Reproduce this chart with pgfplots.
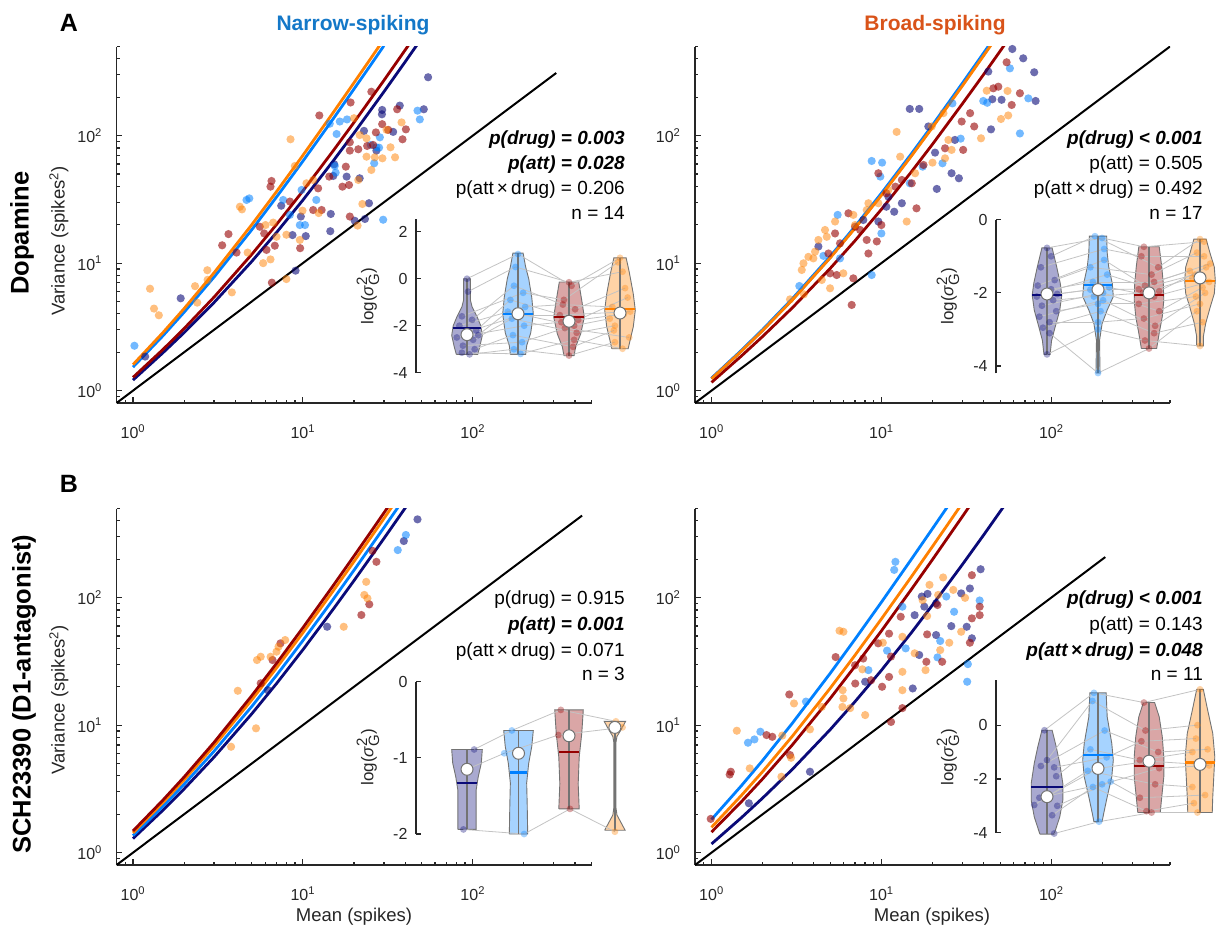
\documentclass[border=0pt]{standalone}
\usepackage{pgfplots}
\pgfplotsset{compat=1.18}
\usepackage{pgfplotstable}
\usepackage{fontspec}
\setmainfont{Liberation Sans}
\definecolor{navyc}{RGB}{10,10,120}
\definecolor{bluec}{RGB}{0,128,255}
\definecolor{redc}{RGB}{150,0,0}
\definecolor{orangec}{RGB}{255,128,0}
\definecolor{axgray}{RGB}{38,38,38}
\definecolor{vgray}{RGB}{115,115,115}
\definecolor{lgray}{RGB}{195,195,195}
\definecolor{narrowc}{RGB}{20,120,200}
\definecolor{broadc}{RGB}{217,83,25}
\newcommand{\fs}[1]{\fontsize{#1}{#1}\selectfont}
\newcommand{\sig}[1]{{\bfseries\itshape #1}}
\newcommand{\lsig}{log(\textit{σ}$^{\mbox{\fs{15}2}}_{\mbox{\fs{15}G}}$)}

\pgfplotsset{
  mainax/.style={
    scale only axis, width=475pt, height=356.5pt,
    xmin=0.8, xmax=500, ymin=0.8, ymax=500,
    axis x line=bottom, axis y line=left,
    axis line style={draw=axgray, line width=1.6pt, -},
    every outer x axis line/.append style={-},
    every outer y axis line/.append style={-},
    xtick={1,10,100}, ytick={1,10,100},
    xticklabels={10\textsuperscript{0},10\textsuperscript{1},10\textsuperscript{2}},
    yticklabels={10\textsuperscript{0},10\textsuperscript{1},10\textsuperscript{2}},
    minor xtick={0.8,0.9,2,3,4,5,6,7,8,9,20,30,40,50,60,70,80,90,200,300,400,500},
    minor ytick={0.8,0.9,2,3,4,5,6,7,8,9,20,30,40,50,60,70,80,90,200,300,400,500},
    tick align=inside,
    major tick length=6pt, minor tick length=3.5pt,
    tick style={draw=axgray, line width=1.2pt},
    tick label style={font=\fs{16}, text=axgray},
    xticklabel style={yshift=-18pt},
    yticklabel style={xshift=-11pt},
  },
  insetax/.style={
    scale only axis, xmin=0, xmax=4.6, width=234.6pt,
    axis x line=none, axis y line=left,
    axis line style={draw=axgray, line width=2pt, -},
    every outer y axis line/.append style={-},
    tick align=inside, major tick length=5pt,
    tick style={draw=axgray, line width=1.2pt},
    yticklabel style={font=\fs{16}, text=axgray, xshift=-5pt},
    clip=false,
  },
  dotN/.style={only marks, mark=*, mark size=4.1pt, color=navyc, mark options={draw opacity=0, fill=navyc, fill opacity=0.6}},
  dotB/.style={only marks, mark=*, mark size=4.1pt, color=bluec, mark options={draw opacity=0, fill=bluec, fill opacity=0.55}},
  dotR/.style={only marks, mark=*, mark size=4.1pt, color=redc, mark options={draw opacity=0, fill=redc, fill opacity=0.6}},
  dotO/.style={only marks, mark=*, mark size=4.1pt, color=orangec, mark options={draw opacity=0, fill=orangec, fill opacity=0.5}},
  vdot/.style={only marks, mark=*, mark size=3.4pt, color=#1, mark options={draw opacity=0, fill=#1, fill opacity=0.35}},
  viol/.style={fill=#1, fill opacity=0.35, draw=vgray, line width=0.9pt},
  fitline/.style={draw=#1, line width=2.8pt},
  idline/.style={draw=black, line width=2pt},
  conn/.style={draw=lgray, line width=0.8pt, -, no markers},
  cline/.style={draw=vgray, line width=1.3pt, unbounded coords=jump},
  mline/.style={draw=#1, line width=2.4pt},
  med/.style={only marks, mark=*, mark size=6pt, mark options={fill=white, draw=vgray, line width=1pt}},
}

% inset data: one row per neuron, x/y for the four conditions
\pgfplotstableread{
x1 y1 x2 y2 x3 y3 x4 y4
1.00 0.00 2.00 1.05 3.05 -0.30 4.00 0.89
1.02 -0.55 1.95 0.50 3.00 -0.15 4.05 0.30
0.90 -1.60 2.10 -0.60 2.90 -0.90 3.96 0.70
1.10 -1.75 1.92 -0.30 3.12 -1.30 4.10 -0.40
0.85 -2.00 2.14 -1.20 2.88 -1.10 3.85 -1.20
1.18 -2.20 1.85 -0.90 3.18 -1.75 4.15 -0.80
0.95 -2.30 2.05 -1.55 2.82 -1.55 4.20 -1.40
1.22 -2.40 1.80 -1.40 3.10 -2.00 3.80 -1.70
0.80 -2.50 2.12 -2.00 2.85 -1.85 4.08 -1.50
1.12 -2.60 1.88 -1.70 3.15 -2.30 3.90 -2.00
0.92 -2.85 2.08 -2.70 2.92 -2.10 4.18 -2.50
1.15 -3.00 1.90 -2.40 3.08 -2.90 3.88 -2.20
0.90 -3.15 2.05 -3.20 3.10 -2.60 4.05 -2.98
1.05 -3.22 1.92 -3.00 3.00 -3.27 3.90 -2.70
}\tabTL
\pgfplotstableread{
x1 y1 x2 y2 x3 y3 x4 y4
1.00 -0.77 2.08 -0.50 2.90 -0.74 4.08 -0.60
1.08 -1.00 1.94 -0.45 3.18 -1.30 4.00 -0.53
0.88 -1.30 2.12 -0.80 2.85 -1.00 4.08 -1.00
1.15 -1.65 1.85 -1.30 3.05 -1.50 3.94 -0.90
0.82 -1.80 2.12 -1.10 2.92 -1.80 4.20 -1.20
1.08 -1.90 1.90 -1.70 3.10 -1.70 3.80 -1.40
0.94 -2.00 2.18 -1.50 3.20 -1.95 4.12 -1.30
1.20 -2.03 1.85 -1.91 2.80 -1.90 3.90 -1.50
0.80 -2.10 2.22 -1.85 3.10 -2.10 4.18 -1.70
1.12 -2.20 1.92 -2.10 2.88 -2.00 3.85 -1.59
0.90 -2.35 2.10 -2.00 3.20 -2.50 4.05 -1.85
1.18 -2.50 2.00 -2.30 2.80 -2.30 3.92 -2.10
0.85 -2.65 2.10 -2.20 3.12 -2.90 4.10 -2.00
1.05 -2.80 2.00 -2.80 2.90 -2.70 4.00 -2.30
0.92 -2.95 2.05 -2.50 3.10 -3.10 4.05 -2.80
1.05 -3.10 2.00 -4.19 3.00 -3.52 3.94 -2.50
1.00 -3.68 2.00 -3.00 2.92 -3.30 4.00 -3.45
}\tabTR
\pgfplotstableread{
x1 y1 x2 y2 x3 y3 x4 y4
1.14 -0.89 1.88 -0.64 2.84 -0.37 3.92 -0.52
1.00 -1.15 1.73 -0.94 2.79 -0.70 4.05 -0.60
0.93 -1.94 2.12 -2.00 3.02 -1.67 3.90 -1.97
}\tabBL
\pgfplotstableread{
x1 y1 x2 y2 x3 y3 x4 y4
0.95 -0.19 1.92 1.20 2.90 0.84 4.00 1.33
1.00 -1.30 1.89 0.90 2.93 -0.20 3.95 0.00
0.88 -1.52 2.13 -0.20 3.18 -1.00 4.15 -0.90
1.14 -1.57 2.17 -1.20 2.85 -0.60 3.92 -0.50
1.18 -1.90 1.85 -0.90 2.82 -1.30 3.85 -1.00
1.00 -2.66 2.00 -1.61 3.00 -1.34 4.00 -1.46
0.85 -2.70 2.08 -2.20 3.20 -1.60 4.18 -1.50
0.75 -2.97 1.80 -1.70 3.12 -2.20 3.85 -2.30
1.20 -3.00 2.25 -2.10 2.82 -2.70 4.10 -2.60
1.10 -3.35 1.90 -2.30 2.95 -3.20 3.88 -2.90
1.14 -4.03 2.02 -3.59 3.05 -3.25 3.95 -3.25
}\tabBR

\begin{document}
\begin{tikzpicture}
\useasboundingbox (0,0) rectangle (1218pt,-930pt);

%================ TOP LEFT =================
\begin{loglogaxis}[mainax, at={(116.5pt,-403pt)}, anchor=south west]
\addplot[dotN] coordinates {(54.6,287) (51.5,161) (37.2,172) (29.3,159) (29.2,147) (34.0,107) (22.9,109) (27.1,76.3) (21.6,46.3) (18.1,47.7) (15.3,59.6) (7.46,28.2) (10.4,16.3) (8.69,16.6) (9.73,23.2) (14.6,24.3) (14.5,17.8) (9.06,8.73) (24.5,29.5) (23.2,22.2) (20.2,21.5) (1.91,5.3) (1.18,1.85) (15.1,48.3)};
\addplot[dotB] coordinates {(1.02,2.25) (4.66,31.3) (4.84,32.2) (7.66,31.3) (9.83,37.5) (10.3,19.9) (14.4,124) (15.8,103) (16.5,129) (18.2,134) (25.1,84.5) (27.1,81) (28.1,80.5) (26.3,60.7) (28.4,97) (47.3,157) (48.8,134) (15.4,57.8) (15.6,51.3) (29.7,21.9) (8.39,23.9) (12.0,31.3) (9.6,19.9)};
\addplot[dotR] coordinates {(12.5,144) (19.1,182) (25.3,221) (35.9,161) (40.4,112) (38.6,93.6) (29.3,123) (26.9,106) (18.9,88.7) (18.9,76.3) (21.2,78.2) (23.9,83.0) (17.9,57.1) (18.7,41.0) (17.1,39.8) (14.3,47.7) (12.3,38.6) (12.9,26.1) (6.54,44.1) (6.45,39.8) (5.58,19.3) (5.92,17.1) (6.11,12.7) (6.84,13.7) (8.39,30.4) (9.64,13.1) (3.65,16.9) (3.35,13.8) (4.07,12.1) (6.57,7.03) (18.9,23.2) (31.8,111) (25.9,84.5) (11.5,26.1)};
\addplot[dotO] coordinates {(1.26,6.3) (1.33,4.4) (1.42,3.9) (2.32,6.6) (2.74,8.8) (2.39,4.9) (3.82,5.9) (2.75,7.4) (4.26,27.7) (4.38,26.4) (4.73,12.1) (5.84,10.0) (6.45,10.7) (6.03,19.9) (6.69,20.8) (7.0,16.1) (8.0,7.5) (8.0,16.7) (8.46,93.6) (8.97,57.8) (10.5,42.3) (11.5,44.9) (9.95,25.8) (9.6,15.2) (20.0,137) (21.6,101) (23.7,95.3) (23.7,68.4) (26.5,67.6) (29.4,66.4) (34.9,67.6) (38.1,127) (31.1,111) (32.8,81) (22.4,29.1) (21.0,19.7) (21.2,44.9) (25.3,53.8) (12.4,24.7)};
\addplot[fitline=navyc] coordinates {(1,1.21) (1.5,1.98) (2,2.85) (3,4.91) (5,10.3) (7,17.4) (10,31.2) (15,62.7) (20,104.8) (30,220.8) (40,379) (50,580)};
\addplot[fitline=redc] coordinates {(1,1.27) (1.5,2.10) (2,3.07) (3,5.41) (5,11.7) (7,20.1) (10,36.8) (15,75.3) (20,127) (30,271) (40,469) (45,588)};
\addplot[fitline=bluec] coordinates {(1,1.53) (1.5,2.69) (2,4.12) (3,7.77) (5,18.25) (7,33.0) (10,63) (15,134) (20,232) (25,356) (30,507)};
\addplot[fitline=orangec] coordinates {(1,1.6) (1.5,2.85) (2,4.4) (3,8.4) (5,20) (7,36.4) (10,70) (15,150) (20,260) (25,400) (30,570)};
\addplot[idline] coordinates {(0.8,0.8) (310,310)};
\end{loglogaxis}

\begin{axis}[insetax, at={(416pt,-372.7pt)}, anchor=south west, ymin=-4, ymax=2.55, height=153.9pt, ytick={-4,-2,0,2}, yticklabels={-4,-2,0,2}]
\addplot[viol=navyc] coordinates {(0.79,-3.22) (0.75,-2.9) (0.70,-2.41) (0.73,-2.0) (0.80,-1.63) (0.90,-1.2) (0.934,-0.9) (0.934,0) (1.066,0) (1.066,-0.9) (1.10,-1.2) (1.20,-1.63) (1.27,-2.0) (1.30,-2.41) (1.25,-2.9) (1.21,-3.22) (0.79,-3.22)};
\addplot[viol=bluec] coordinates {(1.85,-3.22) (1.83,-2.85) (1.75,-2.3) (1.70,-1.5) (1.73,-0.8) (1.79,0) (1.85,0.5) (1.90,1.09) (2.10,1.09) (2.15,0.5) (2.21,0) (2.27,-0.8) (2.30,-1.5) (2.25,-2.3) (2.17,-2.85) (2.15,-3.22) (1.85,-3.22)};
\addplot[viol=redc] coordinates {(2.90,-3.27) (2.87,-2.9) (2.77,-2.34) (2.70,-1.63) (2.75,-0.92) (2.81,-0.14) (3.19,-0.14) (3.25,-0.92) (3.30,-1.63) (3.23,-2.34) (3.13,-2.9) (3.10,-3.27) (2.90,-3.27)};
\addplot[viol=orangec] coordinates {(3.84,-2.98) (3.80,-2.6) (3.74,-2.05) (3.70,-1.34) (3.74,-0.64) (3.82,0.3) (3.88,0.89) (4.12,0.89) (4.18,0.3) (4.26,-0.64) (4.30,-1.34) (4.26,-2.05) (4.20,-2.6) (4.16,-2.98) (3.84,-2.98)};
\addplot[conn, quiver={u=\thisrow{x2}-\thisrow{x1}, v=\thisrow{y2}-\thisrow{y1}}] table[x=x1,y=y1] {\tabTL};
\addplot[conn, quiver={u=\thisrow{x3}-\thisrow{x2}, v=\thisrow{y3}-\thisrow{y2}}] table[x=x2,y=y2] {\tabTL};
\addplot[conn, quiver={u=\thisrow{x4}-\thisrow{x3}, v=\thisrow{y4}-\thisrow{y3}}] table[x=x3,y=y3] {\tabTL};
\addplot[vdot=navyc] table[x=x1,y=y1] {\tabTL};
\addplot[vdot=bluec] table[x=x2,y=y2] {\tabTL};
\addplot[vdot=redc] table[x=x3,y=y3] {\tabTL};
\addplot[vdot=orangec] table[x=x4,y=y4] {\tabTL};
\addplot[cline] coordinates {(1,-3.22) (1,0) (nan,nan) (2,-3.22) (2,1.09) (nan,nan) (3,-3.27) (3,-0.14) (nan,nan) (4,-2.98) (4,0.89)};
\addplot[mline=navyc] coordinates {(0.72,-2.1) (1.28,-2.1)};
\addplot[mline=bluec] coordinates {(1.70,-1.49) (2.30,-1.49)};
\addplot[mline=redc] coordinates {(2.70,-1.64) (3.30,-1.64)};
\addplot[mline=orangec] coordinates {(3.70,-1.28) (4.30,-1.28)};
\addplot[med] coordinates {(1,-2.38) (2,-1.49) (3,-1.81) (4,-1.46)};
\end{axis}

%================ TOP RIGHT =================
\begin{loglogaxis}[mainax, at={(695pt,-403pt)}, anchor=south west]
\addplot[dotN] coordinates {(59.0,478) (68.4,404) (79.4,314) (80.9,187) (45.0,193) (14.7,162) (16.7,162) (44.2,112) (25.9,50.7) (28.6,46.3) (20.7,73.6) (21.2,38.2) (13.2,29.5) (11.9,25.3) (10.7,27.7) (9.6,21.2) (7.83,21.8) (4.26,13.5) (51.0,191) (42.6,318) (18.9,118) (27.1,92.5) (11.0,33.2)};
\addplot[dotB] coordinates {(73.3,196) (57.1,337) (39.8,187) (42.0,181) (29.3,94.7) (65.4,104) (22.9,60.7) (17.5,57.1) (8.77,63.3) (10.1,61.4) (9.86,47.7) (10.0,17.1) (5.53,23.9) (5.71,10.9) (4.56,11.4) (3.29,6.62) (8.77,8.07) (14.7,42.3) (26.2,179)};
\addplot[dotR] coordinates {(54.6,376) (45.6,235) (58.5,174) (65.4,215) (33.3,150) (29.7,129) (23.7,79.6) (30.3,77.3) (17.7,58.9) (13.2,44.9) (12.1,39.8) (10.7,35.3) (9.6,50.7) (6.4,24.6) (7.0,19.3) (7.5,18.2) (8.2,15.2) (5.34,17.1) (5.71,14.3) (4.88,11.9) (4.99,8.32) (5.46,8.07) (8.39,11.9) (9.4,14.8) (10.0,19.9) (15.1,42.3) (6.84,7.6) (6.69,4.7) (16.1,26.9) (48.8,242) (35.2,118)};
\addplot[dotO] coordinates {(41.7,225) (55.3,224) (55.8,144) (50.6,135) (38.6,95.3) (23.2,150) (19.8,118) (24.8,92.5) (25.9,77.3) (23.7,66.4) (20.0,61.4) (12.9,68.4) (12.3,107) (15.8,50.7) (9.6,29.5) (11.0,37.5) (6.84,23.9) (8.39,29.5) (8.2,26.1) (7.0,19.9) (4.66,18.2) (4.77,16.1) (5.34,21.2) (4.26,15.2) (4.07,12.3) (3.72,11.2) (3.98,10.9) (3.48,9.97) (3.4,8.84) (4.99,6.35) (14.1,21.2) (4.46,7.38) (5.97,8.32) (2.9,5.2) (3.5,5.7)};
\addplot[fitline=navyc] coordinates {(1,1.245) (1.5,2.05) (2,2.98) (3,5.2) (5,11.1) (7,19.0) (10,34.5) (15,70) (20,118) (30,250) (40,432) (46,564)};
\addplot[fitline=redc] coordinates {(1,1.16) (1.5,1.87) (2,2.66) (3,4.48) (5,9.1) (7,15.0) (10,26.4) (15,51.9) (20,85.6) (30,178) (40,302) (50,460) (55,551)};
\addplot[fitline=bluec] coordinates {(1,1.25) (1.5,2.07) (2,3.01) (3,5.28) (5,11.3) (7,19.4) (10,35.3) (15,71.9) (20,121) (30,258) (40,445) (45,557)};
\addplot[fitline=orangec] coordinates {(1,1.24) (1.5,2.04) (2,2.96) (3,5.16) (5,11.0) (7,18.8) (10,34) (15,69) (20,116) (30,246) (40,424) (46,554)};
\addplot[idline] coordinates {(0.8,0.8) (500,500)};
\end{loglogaxis}

\begin{axis}[insetax, at={(996pt,-373.4pt)}, anchor=south west, ymin=-4.2, ymax=0, height=153.7pt, ytick={-4,-2,0}, yticklabels={-4,-2,0}]
\addplot[viol=navyc] coordinates {(0.94,-3.68) (0.91,-3.3) (0.84,-2.93) (0.75,-2.47) (0.71,-2.06) (0.74,-1.74) (0.81,-1.29) (0.90,-0.77) (1.10,-0.77) (1.19,-1.29) (1.26,-1.74) (1.29,-2.06) (1.25,-2.47) (1.16,-2.93) (1.09,-3.3) (1.06,-3.68) (0.94,-3.68)};
\addplot[viol=bluec] coordinates {(1.96,-4.19) (1.97,-3.3) (1.92,-2.84) (1.82,-2.47) (1.70,-2.1) (1.72,-1.74) (1.79,-1.29) (1.82,-0.9) (1.83,-0.45) (2.17,-0.45) (2.18,-0.9) (2.21,-1.29) (2.28,-1.74) (2.30,-2.1) (2.18,-2.47) (2.08,-2.84) (2.03,-3.3) (2.04,-4.19) (1.96,-4.19)};
\addplot[viol=redc] coordinates {(2.85,-3.52) (2.80,-3.1) (2.74,-2.65) (2.71,-2.2) (2.72,-1.74) (2.75,-1.29) (2.80,-0.74) (3.20,-0.74) (3.25,-1.29) (3.28,-1.74) (3.29,-2.2) (3.26,-2.65) (3.20,-3.1) (3.15,-3.52) (2.85,-3.52)};
\addplot[viol=orangec] coordinates {(3.935,-3.45) (3.935,-3.2) (3.89,-2.84) (3.80,-2.39) (3.72,-2.02) (3.70,-1.66) (3.72,-1.29) (3.80,-0.93) (3.88,-0.53) (4.12,-0.53) (4.20,-0.93) (4.28,-1.29) (4.30,-1.66) (4.28,-2.02) (4.20,-2.39) (4.11,-2.84) (4.065,-3.2) (4.065,-3.45) (3.935,-3.45)};
\addplot[conn, quiver={u=\thisrow{x2}-\thisrow{x1}, v=\thisrow{y2}-\thisrow{y1}}] table[x=x1,y=y1] {\tabTR};
\addplot[conn, quiver={u=\thisrow{x3}-\thisrow{x2}, v=\thisrow{y3}-\thisrow{y2}}] table[x=x2,y=y2] {\tabTR};
\addplot[conn, quiver={u=\thisrow{x4}-\thisrow{x3}, v=\thisrow{y4}-\thisrow{y3}}] table[x=x3,y=y3] {\tabTR};
\addplot[vdot=navyc] table[x=x1,y=y1] {\tabTR};
\addplot[vdot=bluec] table[x=x2,y=y2] {\tabTR};
\addplot[vdot=redc] table[x=x3,y=y3] {\tabTR};
\addplot[vdot=orangec] table[x=x4,y=y4] {\tabTR};
\addplot[cline] coordinates {(1,-3.68) (1,-0.77) (nan,nan) (2,-4.19) (2,-0.45) (nan,nan) (3,-3.52) (3,-0.74) (nan,nan) (4,-3.45) (4,-0.53)};
\addplot[mline=navyc] coordinates {(0.71,-2.06) (1.29,-2.06)};
\addplot[mline=bluec] coordinates {(1.72,-1.79) (2.28,-1.79)};
\addplot[mline=redc] coordinates {(2.71,-2.06) (3.29,-2.06)};
\addplot[mline=orangec] coordinates {(3.70,-1.67) (4.30,-1.67)};
\addplot[med] coordinates {(1,-2.03) (2,-1.91) (3,-2.0) (4,-1.59)};
\end{axis}

%================ BOTTOM LEFT =================
\begin{loglogaxis}[mainax, at={(116.5pt,-865pt)}, anchor=south west]
\addplot[dotN] coordinates {(47.3,411) (39.3,278) (13.9,59.1) (6.22,18.8)};
\addplot[dotB] coordinates {(40.4,310) (36.2,236)};
\addplot[dotR] coordinates {(25.7,233) (27.1,191) (24.6,88.6) (22.1,73.1) (7.38,43.8) (6.63,32.4) (5.65,21.3)};
\addplot[dotO] coordinates {(23.6,133) (23.0,105) (24.0,98.7) (17.4,59.1) (7.87,46.5) (7.19,41.2) (6.46,34.4) (7.0,37.7) (5.65,34.4) (5.37,32.4) (4.14,18.6) (5.3,9.44) (3.78,6.77)};
\addplot[fitline=navyc] coordinates {(1,1.29) (1.5,2.15) (2,3.16) (3,5.61) (5,12.25) (7,21.2) (10,39) (15,80.3) (20,136) (30,291) (40,504) (42,554)};
\addplot[fitline=bluec] coordinates {(1,1.36) (1.5,2.31) (2,3.44) (3,6.24) (5,14) (7,24.6) (10,46) (15,96) (20,164) (30,354) (37,530)};
\addplot[fitline=orangec] coordinates {(1,1.43) (1.5,2.47) (2,3.72) (3,6.87) (5,15.75) (7,28.1) (10,53) (15,111.8) (20,192) (25,294) (30,417) (35,562)};
\addplot[fitline=redc] coordinates {(1,1.48) (1.5,2.58) (2,3.92) (3,7.32) (5,17) (7,30.5) (10,58) (15,123) (20,212) (25,325) (30,462) (33,556)};
\addplot[idline] coordinates {(0.8,0.8) (440,440)};
\end{loglogaxis}

\begin{axis}[insetax, at={(416pt,-834pt)}, anchor=south west, ymin=-2, ymax=0, height=152.3pt, ytick={-2,-1,0}, yticklabels={-2,-1,0}]
\addplot[viol=navyc] coordinates {(0.82,-1.94) (0.82,-1.42) (0.78,-1.25) (0.72,-1.07) (0.70,-0.89) (1.30,-0.89) (1.28,-1.07) (1.22,-1.25) (1.18,-1.42) (1.18,-1.94) (0.82,-1.94)};
\addplot[viol=bluec] coordinates {(1.83,-2.0) (1.84,-1.6) (1.85,-1.33) (1.81,-1.07) (1.75,-0.85) (1.72,-0.64) (2.30,-0.64) (2.27,-0.85) (2.21,-1.07) (2.17,-1.33) (2.18,-1.6) (2.19,-2.0) (1.83,-2.0)};
\addplot[viol=redc] coordinates {(2.80,-1.67) (2.82,-1.34) (2.80,-0.99) (2.75,-0.68) (2.72,-0.37) (3.28,-0.37) (3.25,-0.68) (3.20,-0.99) (3.18,-1.34) (3.20,-1.67) (2.80,-1.67)};
\addplot[viol=orangec] coordinates {(3.70,-1.95) (3.78,-1.85) (3.86,-1.75) (3.88,-1.65) (3.88,-0.8) (3.86,-0.72) (3.77,-0.62) (3.69,-0.52) (4.11,-0.52) (4.03,-0.62) (3.94,-0.72) (3.92,-0.8) (3.92,-1.65) (3.94,-1.75) (4.02,-1.85) (4.10,-1.95) (3.70,-1.95)};
\addplot[conn, quiver={u=\thisrow{x2}-\thisrow{x1}, v=\thisrow{y2}-\thisrow{y1}}] table[x=x1,y=y1] {\tabBL};
\addplot[conn, quiver={u=\thisrow{x3}-\thisrow{x2}, v=\thisrow{y3}-\thisrow{y2}}] table[x=x2,y=y2] {\tabBL};
\addplot[conn, quiver={u=\thisrow{x4}-\thisrow{x3}, v=\thisrow{y4}-\thisrow{y3}}] table[x=x3,y=y3] {\tabBL};
\addplot[vdot=navyc] table[x=x1,y=y1] {\tabBL};
\addplot[vdot=bluec] table[x=x2,y=y2] {\tabBL};
\addplot[vdot=redc] table[x=x3,y=y3] {\tabBL};
\addplot[vdot=orangec] table[x=x4,y=y4] {\tabBL};
\addplot[cline] coordinates {(1,-1.94) (1,-0.89) (nan,nan) (2.01,-2.0) (2.01,-0.64) (nan,nan) (3,-1.67) (3,-0.37) (nan,nan) (3.9,-1.95) (3.9,-0.52)};
\addplot[mline=navyc] coordinates {(0.80,-1.33) (1.20,-1.33)};
\addplot[mline=bluec] coordinates {(1.84,-1.19) (2.18,-1.19)};
\addplot[mline=redc] coordinates {(2.80,-0.92) (3.20,-0.92)};
\addplot[med] coordinates {(1,-1.15) (2.01,-0.94) (3,-0.71) (3.9,-0.6)};
\end{axis}

%================ BOTTOM RIGHT =================
\begin{loglogaxis}[mainax, at={(695pt,-865pt)}, anchor=south west]
\addplot[dotN] coordinates {(38.4,167) (33.2,118) (29.5,108) (18.7,107) (17.3,102) (21.0,90.2) (15.7,72.9) (25.8,59.8) (31.8,59.1) (21.0,50.9) (34.1,48.0) (16.7,35.5) (8.03,21.9) (15.3,19.4) (3.8,4.31) (1.66,2.44) (17.9,85)};
\addplot[dotB] coordinates {(12.1,191) (11.9,165) (13.3,84.9) (24.1,102) (26.8,77.5) (22.2,45.7) (13.9,40.0) (10.8,38.4) (21.4,34.0) (32.3,30.1) (32.0,21.9) (8.39,27.0) (3.6,15.3) (1.94,8.88) (1.79,7.73) (1.64,7.28) (37.9,95)};
\addplot[dotR] coordinates {(34.1,150) (37.9,84.9) (37.9,72.9) (34.1,68.8) (21.4,87.5) (18.6,51.5) (13.0,70.8) (11.1,52.2) (9.58,43.8) (11.4,34.5) (18.4,31.4) (22.8,31.4) (33.2,44.3) (7.82,33.3) (8.7,22.5) (10.1,20.0) (11.1,23.9) (7.02,21.2) (13.3,13.6) (11.4,10.6) (2.87,17.4) (2.11,8.36) (2.28,8.1) (1.3,4.31) (1.28,4.1) (2.9,5.83) (0.99,1.84) (5.38,34.2) (7.0,29.5)};
\addplot[dotO] coordinates {(23.1,144) (19.2,126) (26.5,115) (31.1,99.6) (21.6,105) (17.5,95.4) (18.6,71.8) (29.5,54.0) (25.1,44.3) (22.2,38.8) (13.3,49.3) (15.7,36.6) (18.2,27.0) (13.3,26.2) (13.3,18.8) (5.98,54) (5.67,55) (10.2,44.3) (7.73,27.4) (5.92,18.8) (5.98,16.2) (5.9,13.9) (6.55,13.6) (8.03,12.0) (4.46,13.9) (3.8,9.27) (1.41,9.04) (1.68,4.58) (2.58,3.94) (2.94,5.55) (2.61,8.28) (3.06,14.8)};
\addplot[fitline=navyc] coordinates {(1,1.17) (1.5,1.88) (2,2.68) (3,4.52) (5,9.23) (7,15.3) (10,26.9) (15,53) (20,87.6) (30,182) (40,310) (50,473) (55,566)};
\addplot[fitline=redc] coordinates {(1,1.45) (1.5,2.51) (2,3.79) (3,7.03) (5,16.2) (7,29) (10,54.8) (15,115.8) (20,199) (30,433) (33,521)};
\addplot[fitline=orangec] coordinates {(1,1.58) (1.5,2.81) (2,4.32) (3,8.22) (5,19.5) (7,35.4) (10,68) (15,145.5) (20,252) (25,387.5) (30,552)};
\addplot[fitline=bluec] coordinates {(1,1.82) (1.5,3.35) (2,5.28) (3,10.4) (5,25.5) (7,47.2) (10,92) (15,199.5) (20,348) (25,537)};
\addplot[idline] coordinates {(0.8,0.8) (208,208)};
\end{loglogaxis}

\begin{axis}[insetax, at={(996pt,-832.7pt)}, anchor=south west, ymin=-4, ymax=1.67, height=152.5pt, ytick={-4,-2,0}, yticklabels={-4,-2,0}]
\addplot[viol=navyc] coordinates {(0.86,-4.05) (0.75,-3.41) (0.69,-2.79) (0.69,-2.17) (0.75,-1.42) (0.82,-0.8) (0.90,-0.19) (1.10,-0.19) (1.18,-0.8) (1.25,-1.42) (1.31,-2.17) (1.31,-2.79) (1.25,-3.41) (1.14,-4.05) (0.86,-4.05)};
\addplot[viol=bluec] coordinates {(1.92,-3.59) (1.89,-3.3) (1.82,-2.67) (1.73,-1.92) (1.70,-1.3) (1.73,-0.68) (1.82,0.31) (1.84,1.2) (2.16,1.2) (2.18,0.31) (2.27,-0.68) (2.30,-1.3) (2.27,-1.92) (2.18,-2.67) (2.11,-3.3) (2.08,-3.59) (1.92,-3.59)};
\addplot[viol=redc] coordinates {(2.78,-3.25) (2.75,-2.67) (2.71,-1.92) (2.71,-1.18) (2.74,-0.43) (2.80,0.31) (2.89,0.84) (3.11,0.84) (3.20,0.31) (3.26,-0.43) (3.29,-1.18) (3.29,-1.92) (3.25,-2.67) (3.22,-3.25) (2.78,-3.25)};
\addplot[viol=orangec] coordinates {(3.76,-3.25) (3.75,-2.67) (3.73,-1.92) (3.71,-1.18) (3.75,-0.31) (3.85,0.56) (3.935,1.33) (4.065,1.33) (4.15,0.56) (4.25,-0.31) (4.29,-1.18) (4.27,-1.92) (4.25,-2.67) (4.24,-3.25) (3.76,-3.25)};
\addplot[conn, quiver={u=\thisrow{x2}-\thisrow{x1}, v=\thisrow{y2}-\thisrow{y1}}] table[x=x1,y=y1] {\tabBR};
\addplot[conn, quiver={u=\thisrow{x3}-\thisrow{x2}, v=\thisrow{y3}-\thisrow{y2}}] table[x=x2,y=y2] {\tabBR};
\addplot[conn, quiver={u=\thisrow{x4}-\thisrow{x3}, v=\thisrow{y4}-\thisrow{y3}}] table[x=x3,y=y3] {\tabBR};
\addplot[vdot=navyc] table[x=x1,y=y1] {\tabBR};
\addplot[vdot=bluec] table[x=x2,y=y2] {\tabBR};
\addplot[vdot=redc] table[x=x3,y=y3] {\tabBR};
\addplot[vdot=orangec] table[x=x4,y=y4] {\tabBR};
\addplot[cline] coordinates {(1,-4.05) (1,-0.19) (nan,nan) (2,-3.59) (2,1.2) (nan,nan) (3,-3.25) (3,0.84) (nan,nan) (4,-3.25) (4,1.33)};
\addplot[mline=navyc] coordinates {(0.69,-2.29) (1.31,-2.29)};
\addplot[mline=bluec] coordinates {(1.71,-1.12) (2.29,-1.12)};
\addplot[mline=redc] coordinates {(2.71,-1.52) (3.29,-1.52)};
\addplot[mline=orangec] coordinates {(3.71,-1.39) (4.29,-1.39)};
\addplot[med] coordinates {(1,-2.66) (2,-1.61) (3,-1.34) (4,-1.46)};
\end{axis}

%================ TEXT =================
\node[font={\bfseries\fs{25}}] at (69pt,-23pt) {A};
\node[font={\bfseries\fs{25}}] at (69pt,-484pt) {B};
\node[font={\bfseries\fs{21}}, text=narrowc] at (353pt,-25pt) {Narrow-spiking};
\node[font={\bfseries\fs{21}}, text=broadc] at (935pt,-25pt) {Broad-spiking};
\node[rotate=90, font={\bfseries\fs{25.5}}] at (22pt,-233pt) {Dopamine};
\node[rotate=90, font={\bfseries\fs{25.5}}] at (24pt,-694pt) {SCH23390 (D1-antagonist)};
\node[rotate=90, font=\fs{18.5}, text=axgray] at (59pt,-241pt) {Variance (spikes\textsuperscript{2})};
\node[rotate=90, font=\fs{18.5}, text=axgray] at (59pt,-700pt) {Variance (spikes\textsuperscript{2})};
\node[font=\fs{18.5}, text=axgray] at (354pt,-917pt) {Mean (spikes)};
\node[font=\fs{18.5}, text=axgray] at (932pt,-917pt) {Mean (spikes)};
\node[rotate=90, font=\fs{17}, text=axgray] at (368pt,-296pt) {\lsig};
\node[rotate=90, font=\fs{17}, text=axgray] at (948pt,-296pt) {\lsig};
\node[rotate=90, font=\fs{17}, text=axgray] at (368pt,-757pt) {\lsig};
\node[rotate=90, font=\fs{17}, text=axgray] at (948pt,-757pt) {\lsig};

\begin{scope}[every node/.style={anchor=base east, font=\fs{19}, inner sep=0pt}]
\node at (625pt,-144pt) {\sig{p(drug) = 0.003}};
\node at (625pt,-169pt) {\sig{p(att) = 0.028}};
\node at (625pt,-194pt) {p(att\,×\,drug) = 0.206};
\node at (625pt,-219pt) {n = 14};
\node at (1203pt,-144pt) {\sig{p(drug) < 0.001}};
\node at (1203pt,-169pt) {p(att) = 0.505};
\node at (1203pt,-194pt) {p(att\,×\,drug) = 0.492};
\node at (1203pt,-219pt) {n = 17};
\node at (625pt,-604pt) {p(drug) = 0.915};
\node at (625pt,-630pt) {\sig{p(att) = 0.001}};
\node at (625pt,-656pt) {p(att\,×\,drug) = 0.071};
\node at (625pt,-680pt) {n = 3};
\node at (1203pt,-604pt) {\sig{p(drug) < 0.001}};
\node at (1203pt,-630pt) {p(att) = 0.143};
\node at (1203pt,-656pt) {\sig{p(att\,×\,drug) = 0.048}};
\node at (1203pt,-680pt) {n = 11};
\end{scope}
\end{tikzpicture}
\end{document}
